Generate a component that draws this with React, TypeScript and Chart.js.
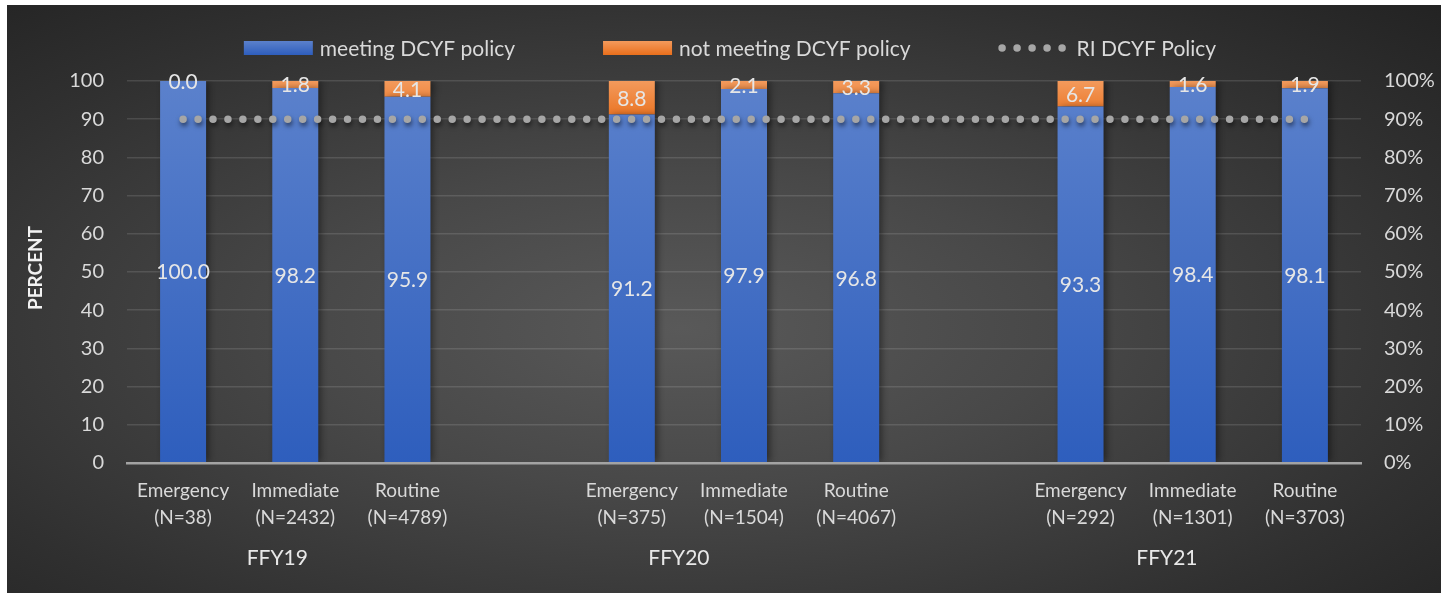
import React, { useEffect, useRef } from 'react';
import { Chart, registerables } from 'chart.js';

Chart.register(...registerables);

// ---------- data ----------
const priorities = ['Emergency', 'Immediate', 'Routine', '', 'Emergency', 'Immediate', 'Routine', '', 'Emergency', 'Immediate', 'Routine'];
const caseCounts = ['(N=38)', '(N=2432)', '(N=4789)', '', '(N=375)', '(N=1504)', '(N=4067)', '', '(N=292)', '(N=1301)', '(N=3703)'];
const meetingPolicy = [100.0, 98.2, 95.9, null, 91.2, 97.9, 96.8, null, 93.3, 98.4, 98.1];
const notMeetingPolicy = [0.0, 1.8, 4.1, null, 8.8, 2.1, 3.3, null, 6.7, 1.6, 1.9];
const policyTarget = [90, 90, 90, 90, 90, 90, 90, 90, 90, 90, 90];
const fiscalYears = ['FFY19', 'FFY20', 'FFY21'];
const fiscalYearAnchor = [0.84, 4.42, 8.77]; // category index under which each year label sits
const seriesNames = ['RI DCYF Policy', 'meeting DCYF policy', 'not meeting DCYF policy'];
const axisTitle = 'PERCENT';

const FONT = 'Lato, "Noto Sans", "DejaVu Sans", sans-serif';
const TEXT = '#d9d9d9';
const W = 1434;
const H = 588;
const DOT_GAP = 14.95;
const DOT_SIZE = 7.5;

function blueGradient(ctx: CanvasRenderingContext2D, top: number, bottom: number) {
  const g = ctx.createLinearGradient(0, top, 0, bottom);
  g.addColorStop(0, '#5b81cc');
  g.addColorStop(1, '#2e5ebd');
  return g;
}
function orangeGradient(ctx: CanvasRenderingContext2D, top: number, bottom: number) {
  const g = ctx.createLinearGradient(0, top, 0, bottom);
  g.addColorStop(0, '#f39a5c');
  g.addColorStop(1, '#e96f1c');
  return g;
}

const decorPlugin = {
  id: 'decor',
  beforeDatasetDraw(chart: any, args: any) {
    const ctx = chart.ctx;
    ctx.save();
    const ds = chart.data.datasets[args.index];
    if (ds.type === 'line') {
      ctx.shadowColor = 'rgba(0,0,0,0.55)';
      ctx.shadowBlur = 5;
      ctx.shadowOffsetX = 1;
      ctx.shadowOffsetY = 3;
    } else {
      ctx.shadowColor = 'rgba(0,0,0,0.45)';
      ctx.shadowBlur = 7;
      ctx.shadowOffsetX = 3;
      ctx.shadowOffsetY = 0;
    }
  },
  afterDatasetDraw(chart: any) {
    chart.ctx.restore();
  },
  afterDatasetsDraw(chart: any) {
    const ctx = chart.ctx;
    ctx.save();
    ctx.font = `21px ${FONT}`;
    ctx.fillStyle = '#e6e6e6';
    ctx.textAlign = 'center';
    ctx.textBaseline = 'middle';
    chart.data.datasets.forEach((ds: any, di: number) => {
      if (ds.type !== 'bar') return;
      const meta = chart.getDatasetMeta(di);
      meta.data.forEach((el: any, i: number) => {
        const v = ds.data[i];
        if (v === null || v === undefined) return;
        ctx.fillText(v.toFixed(1), el.x, (el.y + el.base) / 2 + 1);
      });
    });
    ctx.restore();
  },
  afterDraw(chart: any) {
    const ctx = chart.ctx;
    const area = chart.chartArea;
    const xs = chart.scales.x;
    ctx.save();

    // fiscal year group labels
    ctx.font = `21px ${FONT}`;
    ctx.fillStyle = '#e8e8e8';
    ctx.textAlign = 'center';
    ctx.textBaseline = 'middle';
    fiscalYears.forEach((fy, i) => {
      ctx.fillText(fy, xs.getPixelForValue(fiscalYearAnchor[i]), area.bottom + 95);
    });

    // y axis title
    ctx.save();
    ctx.translate(29, (area.top + area.bottom) / 2 - 4);
    ctx.rotate(-Math.PI / 2);
    ctx.font = `bold 19px ${FONT}`;
    ctx.fillStyle = '#f2f2f2';
    ctx.fillText(axisTitle, 0, 0);
    ctx.restore();

    // legend
    ctx.font = `21px ${FONT}`;
    ctx.textAlign = 'left';
    const items = [
      { kind: 'blue', label: chart.data.datasets[1].label, sw: 69, gap: 7 },
      { kind: 'orange', label: chart.data.datasets[2].label, sw: 69, gap: 7 },
      { kind: 'dots', label: chart.data.datasets[0].label, sw: 66, gap: 12 },
    ];
    const itemGap = 88;
    const widths = items.map((it) => it.sw + it.gap + ctx.measureText(it.label).width);
    const total = widths.reduce((a, b) => a + b, 0) + itemGap * (items.length - 1);
    let x = chart.width / 2 + 6 - total / 2;
    const cy = 43;
    items.forEach((it, i) => {
      if (it.kind === 'dots') {
        ctx.save();
        ctx.strokeStyle = '#a6a6a6';
        ctx.lineWidth = DOT_SIZE;
        ctx.lineCap = 'round';
        ctx.setLineDash([0, 15]);
        ctx.beginPath();
        ctx.moveTo(x + 3.5, cy);
        ctx.lineTo(x + 3.5 + 61, cy);
        ctx.stroke();
        ctx.restore();
      } else {
        ctx.fillStyle = it.kind === 'blue' ? blueGradient(ctx, cy - 7, cy + 7) : orangeGradient(ctx, cy - 7, cy + 7);
        ctx.fillRect(x, cy - 7, it.sw, 14);
      }
      ctx.fillStyle = TEXT;
      ctx.textBaseline = 'middle';
      ctx.fillText(it.label, x + it.sw + it.gap, cy + 1);
      x += widths[i] + itemGap;
    });
    ctx.restore();
  },
};

export default function App() {
  const canvasRef = useRef<HTMLCanvasElement | null>(null);

  useEffect(() => {
    const canvas = canvasRef.current;
    if (!canvas) return;
    const labels = priorities.map((p, i) => (p ? [p, caseCounts[i]] : ''));
    const tickFont = { family: FONT, size: 20 };

    const chart = new Chart(canvas, {
      type: 'bar',
      data: {
        labels,
        datasets: [
          {
            type: 'line',
            label: seriesNames[0],
            data: policyTarget,
            stack: 'policy',
            borderColor: '#a6a6a6',
            backgroundColor: '#a6a6a6',
            borderWidth: DOT_SIZE,
            borderCapStyle: 'round',
            borderDash: [0, DOT_GAP],
            pointRadius: 0,
            pointHoverRadius: 0,
            fill: false,
            tension: 0,
          } as any,
          {
            type: 'bar',
            label: seriesNames[1],
            data: meetingPolicy,
            stack: 'share',
            backgroundColor: (c: any) => {
              const a = c.chart.chartArea;
              if (!a) return '#4472c4';
              return blueGradient(c.chart.ctx, a.top, a.bottom);
            },
            borderWidth: 0,
            categoryPercentage: 1,
            barPercentage: 0.41,
          } as any,
          {
            type: 'bar',
            label: seriesNames[2],
            data: notMeetingPolicy,
            stack: 'share',
            backgroundColor: (c: any) => {
              const a = c.chart.chartArea;
              if (!a) return '#ed7d31';
              return orangeGradient(c.chart.ctx, a.top, a.top + 40);
            },
            borderWidth: 0,
            categoryPercentage: 1,
            barPercentage: 0.41,
          } as any,
        ],
      },
      options: {
        responsive: false,
        devicePixelRatio: 1,
        animation: false,
        layout: { padding: { top: 76, left: 0, right: 0, bottom: 0 } },
        plugins: {
          legend: { display: false },
          tooltip: { enabled: false },
          title: { display: false },
        },
        scales: {
          x: {
            stacked: true,
            offset: true,
            grid: { display: false, drawTicks: false },
            border: { display: true, color: '#a3a3a3', width: 2.5, z: 1 },
            ticks: {
              color: TEXT,
              font: { family: FONT, size: 19, lineHeight: 1.42 },
              padding: 14,
              autoSkip: false,
              maxRotation: 0,
              minRotation: 0,
            },
            afterFit(s: any) {
              s.height = 130;
            },
          },
          y: {
            type: 'linear',
            stacked: true,
            min: 0,
            max: 100,
            ticks: { stepSize: 10, color: TEXT, font: tickFont, padding: 23 },
            grid: { color: 'rgba(255,255,255,0.12)', lineWidth: 1.5, drawTicks: false },
            border: { display: false },
            afterFit(s: any) {
              s.width = 120;
            },
          },
          y2: {
            type: 'linear',
            position: 'right',
            min: 0,
            max: 100,
            ticks: {
              stepSize: 10,
              color: TEXT,
              font: tickFont,
              padding: 23,
              callback: (v: any) => `${v}%`,
            },
            grid: { display: false, drawTicks: false },
            border: { display: false },
            afterFit(s: any) {
              s.width = 80;
            },
          },
        },
      } as any,
      plugins: [decorPlugin as any],
    });

    return () => chart.destroy();
  }, []);

  return (
    <div style={{ position: 'absolute', left: 0, top: 0, width: 1456, height: 593, background: '#ffffff', overflow: 'hidden' }}>
      <div
        style={{
          position: 'absolute',
          left: 7,
          top: 5,
          width: W,
          height: H,
          background:
            'radial-gradient(ellipse farthest-corner at 47% 55%, #595959 0%, #484848 35%, #303030 75%, #232323 100%)',
        }}
      >
        <canvas ref={canvasRef} width={W} height={H} style={{ display: 'block', width: W, height: H }} />
      </div>
    </div>
  );
}
